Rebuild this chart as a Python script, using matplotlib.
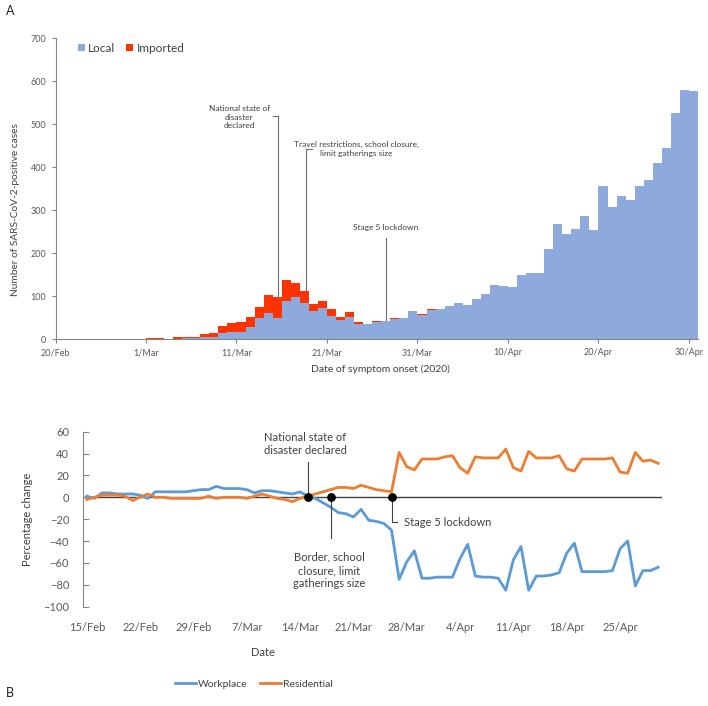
import numpy as np
import pandas as pd
import matplotlib
matplotlib.use("Agg")
import matplotlib.pyplot as plt
from matplotlib.lines import Line2D

plt.rcParams['font.family'] = ['Lato', 'DejaVu Sans']

# ---- panel A: daily cases by symptom onset (29 Feb .. 30 Apr)
onset_dates = pd.date_range('2020-02-29', '2020-04-30')
local_cases = [0, 0, 0, 0, 1, 2, 2, 5, 5, 13, 17, 17, 27, 49, 60, 48, 89, 97, 83, 66,
               73, 54, 44, 51, 36, 34, 39, 42, 46, 49, 66, 57, 67, 69, 77, 83, 79, 92,
               104, 126, 123, 120, 149, 153, 153, 209, 267, 245, 256, 285, 254, 356,
               306, 332, 324, 357, 370, 410, 444, 525, 579, 577]
imported_cases = [1, 3, 2, 0, 3, 3, 3, 6, 10, 17, 20, 22, 25, 26, 42, 50, 48, 33, 29, 16,
                  15, 16, 7, 11, 4, 2, 4, 1, 2, 0, 0, 2, 3, 0, 0, 0, 0, 0, 0, 0, 0, 0,
                  0, 0, 0, 0, 0, 0, 0, 0, 0, 0, 0, 0, 0, 0, 0, 0, 0, 0, 0, 0]
a_tick_dates = pd.date_range('2020-02-20', '2020-04-30', freq='10D')

a_events = [
    ('2020-03-15', 'National state of\ndisaster\ndeclared'),
    ('2020-03-18', 'Travel restrictions, school closure,\nlimit gatherings size'),
    ('2020-03-27', 'Stage 5 lockdown'),
]

# ---- panel B: mobility change (15 Feb .. 30 Apr)
mob_dates = pd.date_range('2020-02-15', '2020-04-30')
workplace = [1, -1, 4, 4, 3, 3, 3, 2, -1, 5, 5, 5, 5, 5, 6, 7, 7, 10, 8, 8, 8, 7, 4, 6, 6,
             5, 4, 3, 5, 1, -1, -5, -9, -14, -15, -18, -11, -21, -22, -24, -30, -75, -59,
             -49, -74, -74, -73, -73, -73, -56, -43, -72, -73, -73, -74, -85, -57, -45,
             -85, -72, -72, -71, -69, -51, -42, -68, -68, -68, -68, -67, -47, -40, -81,
             -67, -67, -64]
residential = [-2, 0, 2, 2, 2, 1, -3, 0, 3, 0, 0, -1, -1, -1, -1, -1, 1, -1, 0, 0, 0, -1,
               1, 3, 1, -1, -2, -4, -1, 1, 3, 5, 7, 9, 9, 8, 11, 9, 7, 6, 5, 41, 28, 25, 35,
               35, 35, 37, 38, 27, 22, 37, 36, 36, 36, 44, 27, 24, 42, 36, 36, 36, 38, 26,
               24, 35, 35, 35, 35, 36, 23, 22, 41, 33, 34, 31]
b_tick_dates = pd.date_range('2020-02-15', '2020-04-30', freq='7D')
b_events = [
    ('2020-03-15', 'National state of\ndisaster declared'),
    ('2020-03-18', 'Border, school\nclosure, limit\ngatherings size'),
    ('2020-03-26', 'Stage 5 lockdown'),
]

local_color = '#8EA9DB'
imported_color = '#FF3300'
work_color = '#5B9BD5'
res_color = '#ED7D31'
txt = '#404040'
axis_gray = '#868686'

fig = plt.figure(figsize=(7.08, 7.06), dpi=100)

# ================= panel A
ax = fig.add_axes([0.0784, 0.5198, 0.9075, 0.4263])
one_day = pd.Timedelta(days=1)
ax.bar(onset_dates, local_cases, width=1.0, align='edge', color=local_color, label='Local')
ax.bar(onset_dates, imported_cases, bottom=local_cases, width=1.0, align='edge',
       color=imported_color, label='Imported')

ax.set_xlim(pd.Timestamp('2020-02-20'), pd.Timestamp('2020-05-01'))
ax.set_ylim(0, 700)
ax.set_yticks(range(0, 701, 100))
ax.set_xticks(a_tick_dates)
ax.set_xticklabels([f"{d.day}/{d.strftime('%b')}" for d in a_tick_dates])
ax.tick_params(axis='both', labelsize=6.5, colors='#595959', length=3, width=0.8)
ax.tick_params(axis='both', color=axis_gray)
for s in ['top', 'right']:
    ax.spines[s].set_visible(False)
for s in ['left', 'bottom']:
    ax.spines[s].set_color(axis_gray)
    ax.spines[s].set_linewidth(0.8)
ax.set_ylabel('Number of SARS-CoV-2-positive cases', fontsize=7.3, color=txt)
ax.yaxis.set_label_coords(-0.055, 0.43)
ax.set_xlabel('Date of symptom onset (2020)', fontsize=7.5, color=txt)
ax.xaxis.set_label_coords(0.505, -0.086)

ax.legend(loc='upper left', bbox_to_anchor=(0.018, 1.02), frameon=False, fontsize=8.5,
          handlelength=0.6, handleheight=0.6, handletextpad=0.3, columnspacing=0.9,
          ncol=2, labelcolor=txt)

total = pd.Series(np.array(local_cases) + np.array(imported_cases), index=onset_dates)
line_c = '#6F6F6F'
# national state of disaster
d0 = pd.Timestamp(a_events[0][0])
x0 = d0 + 0.6 * one_day
ax.plot([x0, x0], [total[d0] + 2, 518], color=line_c, lw=0.8)
ax.plot([x0 - 0.55 * one_day, x0], [518, 518], color=line_c, lw=0.8)
ax.text(d0 - 3.7 * one_day, 516, a_events[0][1], ha='center', va='center',
        fontsize=6, color=txt, linespacing=1.3)
# travel restrictions
d1 = pd.Timestamp(a_events[1][0])
x1 = d1 + 0.7 * one_day
ax.plot([x1, x1], [total[d1] + 2, 442], color=line_c, lw=0.8)
ax.plot([x1, x1 + 0.6 * one_day], [442, 442], color=line_c, lw=0.8)
ax.text(d1 + 6.2 * one_day, 441, a_events[1][1], ha='center', va='center',
        fontsize=6, color=txt, linespacing=1.35)
# stage 5 lockdown
d2 = pd.Timestamp(a_events[2][0])
x2 = d2 + 0.5 * one_day
ax.plot([x2, x2], [total[d2] + 2, 236], color=line_c, lw=0.8)
ax.text(x2, 260, a_events[2][1], ha='center', va='center', fontsize=6, color=txt)

fig.text(0.008, 0.985, 'A', fontsize=9, color='#222222', va='center')

# ================= panel B
bx = fig.add_axes([0.1172, 0.1407, 0.8178, 0.2479])
bx.axhline(0, color='#404040', lw=1.0, zorder=1)
bx.plot(mob_dates, workplace, color=work_color, lw=2.0, label='Workplace', zorder=2)
bx.plot(mob_dates, residential, color=res_color, lw=2.0, label='Residential', zorder=2)

ev_dates = [pd.Timestamp(e[0]) for e in b_events]
bx.scatter(ev_dates, [0] * len(ev_dates), s=28, color='black', zorder=4)
# leaders
bx.plot([ev_dates[0], ev_dates[0]], [0, 32], color='#404040', lw=0.8, zorder=3)
bx.text(ev_dates[0] - 0.3 * one_day, 49, b_events[0][1], ha='center', va='center',
        fontsize=8, color=txt, linespacing=1.25)
bx.plot([ev_dates[1], ev_dates[1]], [0, -37.5], color='#404040', lw=0.8, zorder=3)
bx.text(ev_dates[1] - 0.2 * one_day, -67, b_events[1][1], ha='center', va='center',
        fontsize=8, color=txt, linespacing=1.25)
bx.plot([ev_dates[2], ev_dates[2], ev_dates[2] + 0.75 * one_day], [0, -22.6, -22.6],
        color='#404040', lw=0.8, zorder=3)
bx.text(ev_dates[2] + 1.6 * one_day, -23.5, b_events[2][1], ha='left', va='center',
        fontsize=8, color=txt)

bx.set_xlim(pd.Timestamp('2020-02-15') - 0.5 * one_day, pd.Timestamp('2020-04-30') + 0.5 * one_day)
bx.set_ylim(-100, 60)
bx.set_yticks(range(-100, 61, 20))
bx.set_xticks(b_tick_dates)
bx.set_xticklabels([f"{d.day}/{d.strftime('%b')}" for d in b_tick_dates])
bx.tick_params(axis='x', length=0, pad=11, labelsize=8, colors='#595959')
bx.tick_params(axis='y', direction='in', length=4, width=0.8, labelsize=8,
               colors='#595959', pad=10)
bx.tick_params(axis='y', color=axis_gray)
for s in ['top', 'right', 'bottom']:
    bx.spines[s].set_visible(False)
bx.spines['left'].set_color(axis_gray)
bx.spines['left'].set_linewidth(0.8)
bx.set_ylabel('Percentage change', fontsize=8, color=txt)
bx.yaxis.set_label_coords(-0.086, 0.5)

fig.text(263 / 708, 1 - 653 / 706, 'Date', ha='center', va='center', fontsize=8, color=txt)
fig.legend(handles=[Line2D([], [], color=work_color, lw=2.0, label='Workplace'),
                    Line2D([], [], color=res_color, lw=2.0, label='Residential')],
           loc='center', bbox_to_anchor=(254 / 708, 1 - 684 / 706), ncol=2, frameon=False,
           fontsize=7.5, handlelength=2.0, handletextpad=0.2, columnspacing=1.2,
           labelcolor=txt)

fig.text(0.008, 1 - 693 / 706, 'B', fontsize=9, color='#222222', va='center')

fig.savefig('out.png', dpi=100)
